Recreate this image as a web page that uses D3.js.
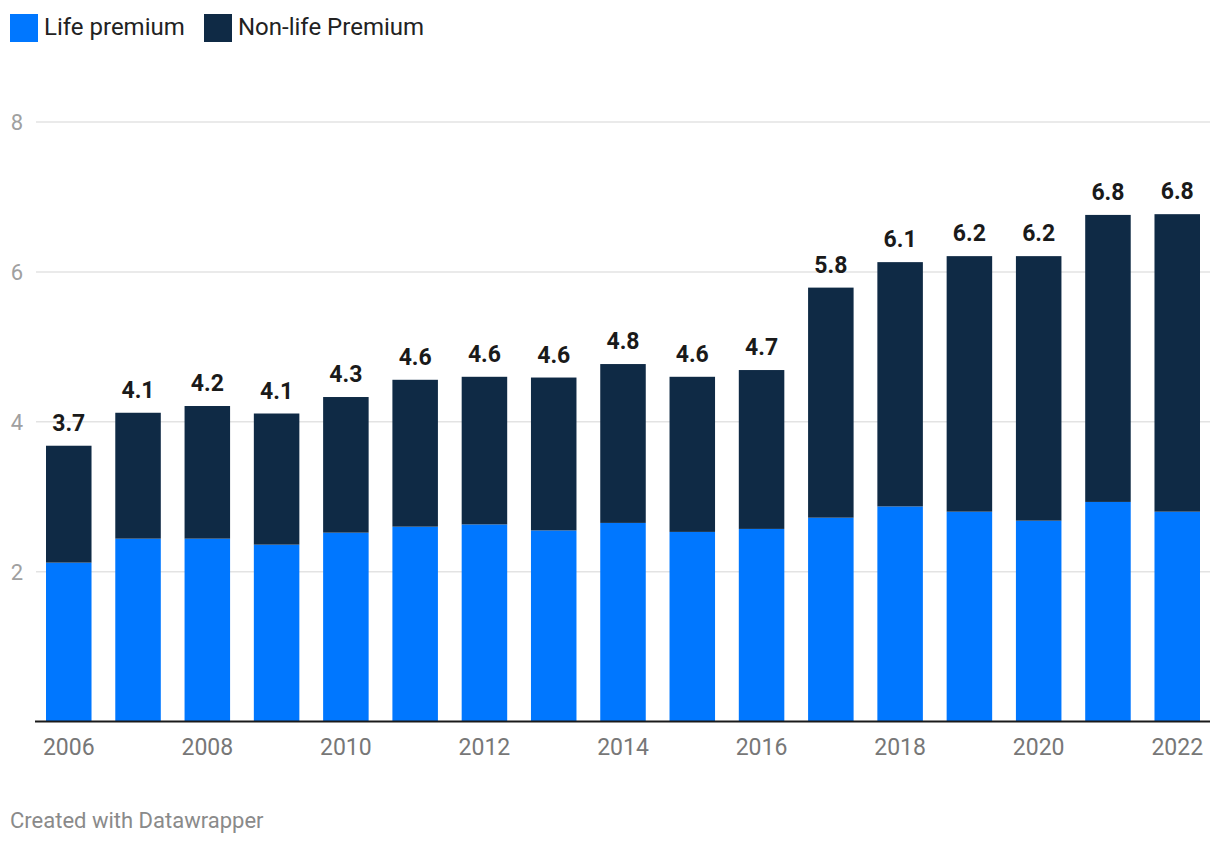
<!DOCTYPE html>
<html><head><meta charset="utf-8">
<script src="https://cdn.jsdelivr.net/npm/d3@7"></script>
<style>
body{margin:0;background:#fff;font-family:Roboto,"Noto Sans",sans-serif;}
</style></head>
<body>
<svg id="c" width="1220" height="846"></svg>
<script>
const years = ["2006","2007","2008","2009","2010","2011","2012","2013","2014","2015","2016","2017","2018","2019","2020","2021","2022"];
const lifePremium = [2.12,2.44,2.44,2.36,2.52,2.60,2.63,2.55,2.65,2.53,2.57,2.72,2.87,2.80,2.68,2.93,2.80];
const totalPremium = [3.68,4.12,4.21,4.11,4.33,4.56,4.60,4.59,4.77,4.60,4.69,5.79,6.13,6.21,6.21,6.76,6.77];
const nonLifePremium = totalPremium.map((t,i)=>+(t-lifePremium[i]).toFixed(2));
const totalLabels = ["3.7","4.1","4.2","4.1","4.3","4.6","4.6","4.6","4.8","4.6","4.7","5.8","6.1","6.2","6.2","6.8","6.8"];
const yTicks = [2,4,6,8];
const xTickLabels = ["2006","2008","2010","2012","2014","2016","2018","2020","2022"];
const seriesNames = ["Life premium","Non-life Premium"];
const colors = ["#0077ff","#0f2a45"];

const svg = d3.select("#c");
const x = d3.scaleBand().domain(years).range([46,1200]).paddingInner(0.343).paddingOuter(0);
const y = d3.scaleLinear().domain([0,8]).range([721.5,122]);

// gridlines
svg.append("g").selectAll("line").data(yTicks).join("line")
  .attr("x1",36).attr("x2",1210)
  .attr("y1",d=>y(d)).attr("y2",d=>y(d))
  .attr("stroke","#e3e3e3").attr("stroke-width",1.5);
svg.append("g").selectAll("text").data(yTicks).join("text")
  .attr("x",17).attr("y",d=>y(d)).attr("dy","0.36em")
  .attr("text-anchor","middle")
  .attr("fill","#a0a0a0").attr("font-size",22).text(d=>d);

const rows = years.map((yr,i)=>({year:yr, life:lifePremium[i], nonlife:nonLifePremium[i]}));
const stack = d3.stack().keys(["life","nonlife"])(rows);
svg.append("g").selectAll("g").data(stack).join("g")
  .attr("fill",(d,i)=>colors[i])
  .selectAll("rect").data(d=>d).join("rect")
  .attr("x",d=>x(d.data.year)).attr("width",x.bandwidth())
  .attr("y",d=>y(d[1])).attr("height",d=>y(d[0])-y(d[1]));

// value labels
svg.append("g").selectAll("text").data(years).join("text")
  .attr("x",d=>x(d)+x.bandwidth()/2)
  .attr("y",(d,i)=>y(totalPremium[i])-15)
  .attr("text-anchor","middle").attr("font-weight",700)
  .attr("font-size",23).attr("fill","#1a1a1a")
  .text((d,i)=>totalLabels[i]);

// baseline
svg.append("line").attr("x1",35).attr("x2",1210).attr("y1",y(0)).attr("y2",y(0))
  .attr("stroke","#1a1a1a").attr("stroke-width",2);

// x labels
svg.append("g").selectAll("text").data(xTickLabels).join("text")
  .attr("x",d=>x(d)+x.bandwidth()/2).attr("y",755)
  .attr("text-anchor","middle").attr("fill","#777").attr("font-size",23).text(d=>d);

// legend
const leg = svg.append("g");
const legX = [10,204];
seriesNames.forEach((n,i)=>{
  leg.append("rect").attr("x",legX[i]).attr("y",14).attr("width",28).attr("height",28).attr("fill",colors[i]);
  leg.append("text").attr("x",legX[i]+34).attr("y",35).attr("font-size",24).attr("fill","#222").text(n);
});

svg.append("text").attr("x",10).attr("y",828).attr("font-size",22).attr("fill","#8a8a8a").text("Created with Datawrapper");
</script>
</body></html>
